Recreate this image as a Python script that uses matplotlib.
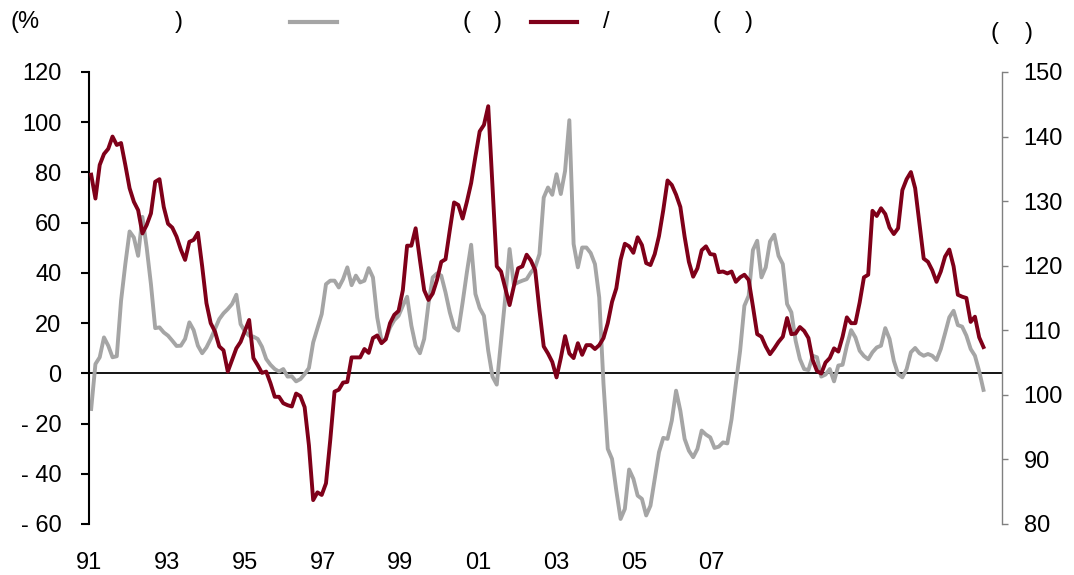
import matplotlib.pyplot as plt
from matplotlib.lines import Line2D

# monthly series from 1991 (left axis, %)
gray_vals = [
    -14.2, 3.7, 6.4, 14.3, 11.0, 6.4, 6.8, 28.9, 43.5, 56.5,
    54.1, 46.8, 62.3, 50.1, 35.5, 18.0, 18.3, 16.3, 15.0, 13.0,
    10.9, 11.0, 13.7, 20.3, 17.2, 11.0, 8.0, 10.3, 13.7, 17.6,
    21.6, 23.9, 25.6, 27.6, 31.3, 19.6, 16.7, 15.0, 14.6, 13.7,
    10.6, 5.7, 3.4, 1.7, 0.7, 1.7, -1.3, -1.2, -3.2, -2.3,
    -0.3, 2.1, 12.3, 18.0, 23.6, 35.5, 36.9, 36.9, 34.2, 37.5,
    42.2, 35.1, 38.9, 36.2, 36.9, 41.9, 38.2, 22.3, 13.0, 13.7,
    18.3, 21.2, 22.9, 26.9, 30.5, 19.0, 11.0, 8.0, 13.7, 27.6,
    38.2, 39.8, 38.9, 32.2, 24.3, 18.3, 17.0, 28.2, 40.2, 51.2,
    31.6, 26.0, 22.9, 9.0, -1.3, -4.5, 13.0, 30.2, 49.5, 35.3,
    36.2, 36.9, 37.5, 40.2, 42.2, 47.5, 70.0, 74.0, 71.1, 79.3,
    71.4, 80.6, 100.8, 51.5, 42.2, 50.1, 50.1, 47.9, 43.5, 30.2,
    -4.2, -30.1, -34.1, -46.7, -58.0, -54.0, -38.3, -42.0, -48.7, -50.0,
    -56.6, -52.7, -42.0, -31.4, -25.7, -26.1, -18.8, -6.9, -14.9, -26.1,
    -30.8, -33.4, -30.1, -22.8, -24.4, -25.5, -29.7, -29.2, -27.5, -27.9,
    -18.2, -4.2, 9.0, 26.9, 30.9, 49.1, 52.8, 38.2, 42.2, 52.5,
    55.2, 46.8, 43.5, 27.6, 24.3, 13.0, 5.7, 1.7, 1.3, 7.0,
    6.4, -1.3, -0.5, 1.7, -3.2, 3.1, 3.4, 11.0, 17.2, 14.3,
    9.0, 6.9, 5.6, 8.4, 10.3, 11.0, 18.0, 13.7, 5.0, -0.3,
    -1.6, 1.7, 8.4, 10.1, 8.0, 7.0, 7.7, 7.0, 5.3, 9.7,
    15.9, 22.3, 24.9, 19.2, 18.6, 15.0, 9.7, 7.0, 0.8, -6.6,
]

# monthly series from 1991 (right axis)
red_vals = [
    134.1, 130.4, 135.6, 137.3, 138.1, 140.0, 138.7, 139.0, 135.6, 132.0,
    129.9, 128.6, 125.0, 126.3, 128.1, 133.0, 133.4, 129.1, 126.5, 125.9,
    124.5, 122.5, 120.9, 123.7, 124.0, 125.1, 119.9, 114.2, 111.1, 109.8,
    107.5, 106.9, 103.6, 105.4, 107.2, 108.2, 109.9, 111.6, 105.7, 104.6,
    103.4, 103.6, 101.8, 99.7, 99.7, 98.7, 98.4, 98.2, 100.2, 99.8,
    98.1, 92.2, 83.7, 84.9, 84.5, 86.3, 93.0, 100.5, 100.8, 101.9,
    102.0, 105.8, 105.8, 105.8, 107.1, 106.5, 108.8, 109.2, 108.0, 108.6,
    111.1, 112.4, 113.0, 116.2, 123.1, 123.1, 125.8, 120.9, 116.2, 114.7,
    115.7, 117.8, 120.6, 121.0, 125.5, 129.8, 129.4, 127.3, 129.9, 132.8,
    136.9, 140.8, 141.8, 144.7, 132.2, 119.9, 119.1, 116.5, 113.9, 116.8,
    119.6, 119.9, 121.7, 120.8, 119.3, 113.1, 107.5, 106.4, 105.1, 102.7,
    105.7, 109.1, 106.4, 105.7, 108.0, 106.2, 107.7, 107.7, 107.1, 107.7,
    108.8, 111.1, 114.4, 116.5, 120.9, 123.4, 123.0, 122.0, 124.4, 123.2,
    120.4, 120.1, 121.8, 124.6, 128.6, 133.2, 132.5, 131.0, 129.1, 124.5,
    120.6, 118.3, 119.6, 122.4, 123.0, 121.8, 121.7, 119.0, 119.1, 118.8,
    119.1, 117.5, 118.2, 118.6, 117.8, 113.7, 109.4, 109.0, 107.5, 106.3,
    107.2, 108.2, 109.0, 111.9, 109.4, 109.5, 110.5, 109.9, 108.8, 105.4,
    103.7, 103.3, 105.0, 105.7, 107.2, 106.7, 109.0, 112.0, 111.1, 111.1,
    114.3, 118.2, 118.6, 128.5, 127.7, 128.9, 128.0, 125.9, 124.9, 125.8,
    131.7, 133.4, 134.5, 132.0, 126.6, 121.1, 120.6, 119.3, 117.5, 119.1,
    121.4, 122.5, 119.9, 115.5, 115.2, 115.0, 111.3, 112.1, 108.9, 107.4,
]

months = list(range(len(gray_vals)))

year_labels = ['91', '93', '95', '97', '99', '01', '03', '05', '07']
year_ticks = [-0.5, 17.7, 36.0, 54.2, 72.4, 90.6, 108.9, 127.1, 145.3]

left_ticks = [-60, -40, -20, 0, 20, 40, 60, 80, 100, 120]
left_labels = ['- 60', '- 40', '- 20', '0', '20', '40', '60', '80', '100', '120']
right_ticks = [80, 90, 100, 110, 120, 130, 140, 150]

gray = '#A5A5A5'
red = '#7F0019'

plt.rcParams['font.family'] = ['Liberation Sans', 'DejaVu Sans']

fig = plt.figure(figsize=(10.74, 5.75), dpi=100)
ax = fig.add_axes([0.0829, 0.0887, 0.8503, 0.7861])
ax2 = ax.twinx()

ax.axhline(0, color='black', lw=1.3, zorder=1)
ax.plot(months, gray_vals, color=gray, lw=2.8, zorder=2)
ax2.plot(months, red_vals, color=red, lw=2.8)

ax.set_xlim(0, 213.4)
ax.set_ylim(-60, 120)
ax2.set_ylim(80, 150)

ax.set_yticks(left_ticks)
ax.set_yticklabels(left_labels)
ax2.set_yticks(right_ticks)
ax.set_xticks(year_ticks)
ax.set_xticklabels(year_labels)

for s in ['top', 'right', 'bottom']:
    ax.spines[s].set_visible(False)
for s in ['top', 'left', 'bottom']:
    ax2.spines[s].set_visible(False)
ax.spines['left'].set_linewidth(1.5)
ax2.spines['right'].set_color('#808080')
ax2.spines['right'].set_linewidth(1.0)

ax.tick_params(axis='y', direction='out', length=5.8, width=1.5, pad=14, labelsize=17)
ax.tick_params(axis='x', length=0, pad=20, labelsize=17)
ax2.tick_params(axis='y', direction='out', length=4.3, width=1.0, color='#808080',
                pad=11, labelsize=17)

# legend row (the original glyphs in between are blank)
def fx(px):
    return px / 1074

def fy(py):
    return 1 - py / 575

fig.text(fx(10), fy(22), '(%', fontsize=17, va='center', ha='left')
fig.text(fx(175), fy(22), ')', fontsize=17, va='center', ha='left')
fig.add_artist(Line2D([fx(290), fx(337)], [fy(22), fy(22)], color=gray, lw=3))
fig.text(fx(462), fy(22), '(', fontsize=17, va='center', ha='left')
fig.text(fx(494), fy(22), ')', fontsize=17, va='center', ha='left')
fig.add_artist(Line2D([fx(531), fx(577)], [fy(22), fy(22)], color=red, lw=3))
fig.text(fx(603), fy(22), '/', fontsize=17, va='center', ha='left')
fig.text(fx(712), fy(22), '(', fontsize=17, va='center', ha='left')
fig.text(fx(745), fy(22), ')', fontsize=17, va='center', ha='left')
fig.text(fx(990), fy(33), '(', fontsize=17, va='center', ha='left')
fig.text(fx(1025), fy(33), ')', fontsize=17, va='center', ha='left')

fig.savefig('out.png', dpi=100)
